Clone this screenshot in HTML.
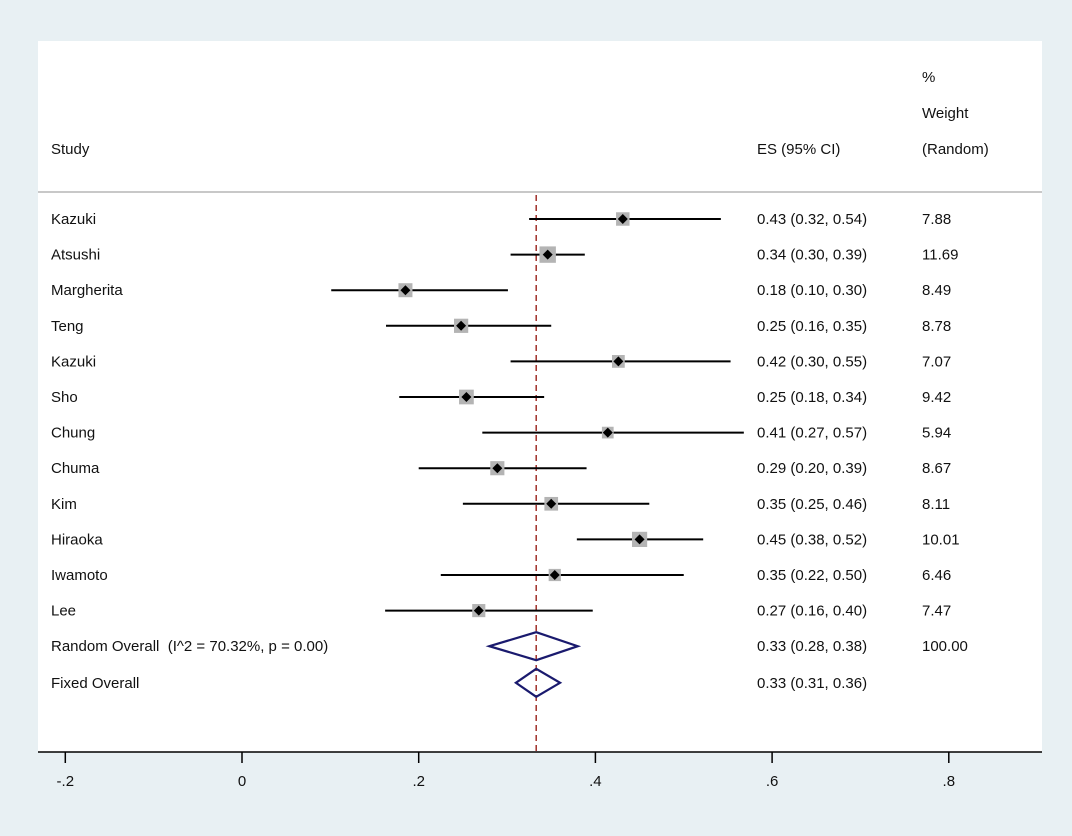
<!DOCTYPE html>
<html><head><meta charset="utf-8"><style>
body{margin:0;background:#e8f0f3;}
svg{display:block;font-family:"Liberation Sans",Arial,sans-serif;}
text{white-space:pre;}
</style></head><body>
<svg id="c" width="1072" height="836"></svg>
<script>
const studies=["Kazuki","Atsushi","Margherita","Teng","Kazuki","Sho","Chung","Chuma","Kim","Hiraoka","Iwamoto","Lee"];
const es=[0.431,0.346,0.185,0.248,0.426,0.254,0.414,0.289,0.350,0.450,0.354,0.268];
const lo=[0.325,0.304,0.101,0.163,0.304,0.178,0.272,0.200,0.250,0.379,0.225,0.162];
const hi=[0.542,0.388,0.301,0.350,0.553,0.342,0.568,0.390,0.461,0.522,0.500,0.397];
const esLabels=["0.43 (0.32, 0.54)","0.34 (0.30, 0.39)","0.18 (0.10, 0.30)","0.25 (0.16, 0.35)","0.42 (0.30, 0.55)","0.25 (0.18, 0.34)","0.41 (0.27, 0.57)","0.29 (0.20, 0.39)","0.35 (0.25, 0.46)","0.45 (0.38, 0.52)","0.35 (0.22, 0.50)","0.27 (0.16, 0.40)"];
const weights=["7.88","11.69","8.49","8.78","7.07","9.42","5.94","8.67","8.11","10.01","6.46","7.47"];
const pooledLabels=["Random Overall  (I^2 = 70.32%, p = 0.00)","Fixed Overall"];
const pooledEs=[0.333,0.333];
const pooledLo=[0.28,0.31];
const pooledHi=[0.38,0.36];
const pooledText=["0.33 (0.28, 0.38)","0.33 (0.31, 0.36)"];
const pooledW=["100.00",""];
const ticks=[-0.2,0,0.2,0.4,0.6,0.8];
const tickLabels=["-.2","0",".2",".4",".6",".8"];
const NS="http://www.w3.org/2000/svg";
const svg=document.getElementById('c');
const X=v=>242+v*883.5;
const Y=i=>219+i*35.6;
function el(t,a,p){const e=document.createElementNS(NS,t);for(const k in a)e.setAttribute(k,a[k]);(p||svg).appendChild(e);return e;}
function txt(x,y,s,name){const t=el('text',{x:x,y:y,'font-size':15,fill:'#111'});t.textContent=s;return t;}
const panel=el('rect',{x:38,y:41,width:1004,height:711,fill:'#fff'});


const hl=el('line',{x1:38,x2:1042,y1:192,y2:192,stroke:'#c8c8c8','stroke-width':2});


txt(51,154,"Study","study-header");
txt(757,154,"ES (95% CI)","es-header");
txt(922,82,"%","weight-header");
txt(922,118,"Weight","weight-header");
txt(922,154,"(Random)","weight-header");
const ref=el('line',{x1:X(0.333),x2:X(0.333),y1:195,y2:752,stroke:'#a0302a','stroke-width':1.5,'stroke-dasharray':'6,4'});


studies.forEach((s,i)=>{
 const y=Y(i);
 txt(51,y+5,s,'study-label');
 const ln=el('line',{x1:X(lo[i]),x2:X(hi[i]),y1:y,y2:y,stroke:'#000','stroke-width':2});
 
 
 const sz=4.8*Math.sqrt(parseFloat(weights[i]));
 const sq=el('rect',{x:X(es[i])-sz/2,y:y-sz/2,width:sz,height:sz,fill:'#b4b4b4'});
 
 
 const d=5,cx=X(es[i]);
 const pt=el('polygon',{points:`${cx},${y-d} ${cx+d},${y} ${cx},${y+d} ${cx-d},${y}`,fill:'#000'});
 
 
 txt(757,y+5,esLabels[i],'es-value');
 txt(922,y+5,weights[i],'weight-value');
});
pooledLabels.forEach((lab,j)=>{
 const y=Y(12+j)+(j?1:0);
 txt(51,y+5,lab,'pooled-label');
 const dm=el('polygon',{points:`${X(pooledLo[j])},${y} ${X(pooledEs[j])},${y-14} ${X(pooledHi[j])},${y} ${X(pooledEs[j])},${y+14}`,fill:'none',stroke:'#1a1a6e','stroke-width':2.2});
 
 
 txt(757,y+5,pooledText[j],'es-value');
 if(pooledW[j])txt(922,y+5,pooledW[j],'weight-value');
});
const ax=el('line',{x1:38,x2:1042,y1:752,y2:752,stroke:'#000','stroke-width':1.5});


ticks.forEach((t,i)=>{
 const tk=el('line',{x1:X(t),x2:X(t),y1:752,y2:763,stroke:'#000','stroke-width':1.5});
 
 
 const l=txt(X(t),786,tickLabels[i],'x-tick-label');
 l.setAttribute('text-anchor','middle');
});
</script>
</body></html>
